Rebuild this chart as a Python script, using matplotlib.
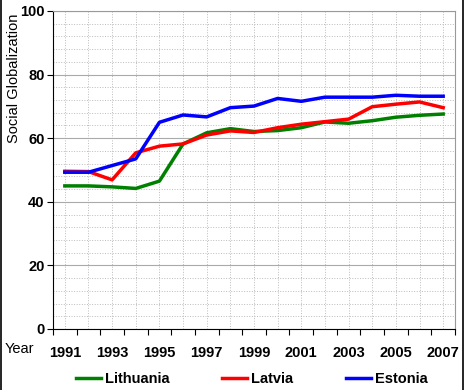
import numpy as np
import matplotlib
matplotlib.use('Agg')
import matplotlib.pyplot as plt
from matplotlib.ticker import MultipleLocator, FixedLocator
from matplotlib.lines import Line2D

# === Dati ===
years = [1991, 1992, 1993, 1994, 1995, 1996, 1997, 1998, 1999,
         2000, 2001, 2002, 2003, 2004, 2005, 2006, 2007]
lithuania = [45.0, 45.0, 44.7, 44.2, 46.5, 58.2, 61.7, 63.0, 62.1,
             62.4, 63.3, 65.1, 64.7, 65.5, 66.6, 67.2, 67.6]
latvia = [49.6, 49.5, 46.9, 55.4, 57.5, 58.2, 61.0, 62.3, 61.8,
          63.3, 64.4, 65.2, 66.0, 69.9, 70.7, 71.4, 69.6]
estonia = [49.3, 49.3, 51.4, 53.5, 65.0, 67.3, 66.7, 69.6, 70.1,
           72.5, 71.6, 72.9, 72.9, 72.9, 73.5, 73.2, 73.2]

series = [('Lithuania', lithuania, '#008000'),
          ('Latvia', latvia, '#ff0000'),
          ('Estonia', estonia, '#0000ff')]

plt.rcParams['font.family'] = ['Liberation Sans Narrow', 'Liberation Sans', 'DejaVu Sans']

fig = plt.figure(figsize=(4.67, 3.90), dpi=100)
ax = fig.add_axes([53 / 467, 1 - 329 / 390, 402 / 467, 318 / 390])

x = np.arange(len(years))
for name, vals, col in series:
    ax.plot(x, vals, color=col, lw=2.5, label=name, solid_joinstyle='round')

# Asse categorie: tick ai bordi, etichette al centro
ax.set_xlim(-0.5, len(years) - 0.5)
ax.set_ylim(0, 100)
ax.xaxis.set_major_locator(FixedLocator(np.arange(-0.5, len(years), 1)))
ax.set_xticklabels([])
ax.xaxis.set_minor_locator(FixedLocator(np.arange(0, len(years), 0.5)))
for i, yr in enumerate(years):
    if yr % 2 == 1:
        ax.text(i, -0.055, str(yr), transform=ax.get_xaxis_transform(),
                ha='center', va='top', fontsize=10.5, fontweight='bold')

ax.yaxis.set_major_locator(MultipleLocator(20))
ax.yaxis.set_minor_locator(MultipleLocator(4))
ax.tick_params(axis='y', which='major', length=4, labelsize=10.5, pad=2)
ax.tick_params(axis='x', which='major', length=4, direction='out')
ax.tick_params(which='minor', length=0)
for lab in ax.get_yticklabels():
    lab.set_fontweight('bold')

# Griglia
ax.grid(True, axis='y', which='major', color='#aaaaaa', lw=0.8)
ax.grid(True, axis='y', which='minor', color='#bbbbbb', lw=0.7, ls=':')
ax.grid(True, axis='x', which='minor', color='#bbbbbb', lw=0.7, ls=':')
ax.set_axisbelow(True)

ax.spines['left'].set_color('black')
ax.spines['bottom'].set_color('black')
ax.spines['top'].set_color('#999999')
ax.spines['right'].set_color('#999999')

fig.text(14 / 467, 1 - 78 / 390, 'Social Globalization', fontsize=10.5,
         rotation=90, ha='center', va='center')
fig.text(5 / 467, 1 - 349 / 390, 'Year', fontsize=10.5, ha='left', va='center')

# Legenda
handles = [Line2D([], [], color=c, lw=2.5) for _, _, c in series]
fig.legend(handles, [n for n, _, _ in series], loc='center',
           bbox_to_anchor=(252 / 467, 1 - 379 / 390), ncol=3, frameon=False,
           handlelength=1.7, handletextpad=0.3, columnspacing=3.6,
           prop={'weight': 'bold', 'size': 10.5})

# Bordo figura
fig.add_artist(Line2D([1 / 467, 1 / 467], [0, 1], color='black', lw=1.2))
fig.add_artist(Line2D([463 / 467, 463 / 467], [0, 1], color='black', lw=1.2))

fig.savefig('out.png', dpi=100)
